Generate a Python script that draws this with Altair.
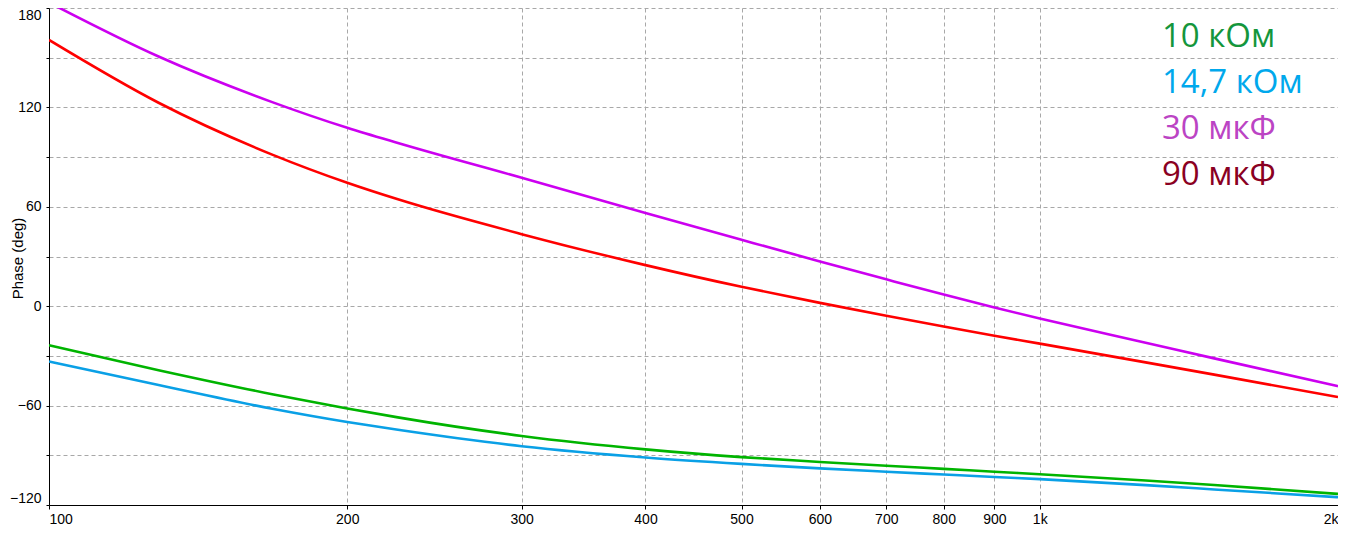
import altair as alt
import pandas as pd

# Frequencies (Hz) at which the curves were read
freq = [100, 129, 168, 200, 225, 300, 400, 500, 600, 700, 800, 900, 1000, 1279, 1500, 2000]

# Phase (deg) of each curve
phase_10k = [-23.6, -38.6, -53.1, -61.7, -67.1, -78.3, -86.4, -91.1, -94.0, -96.3, -98.2, -99.9, -101.4, -105.2, -107.9, -113.3]
phase_14k7 = [-33.4, -47.6, -61.9, -69.9, -74.6, -84.5, -91.3, -95.2, -97.9, -99.9, -101.6, -103.1, -104.4, -108.0, -110.6, -115.3]
phase_30u = [183.3, 150.7, 123.2, 107.7, 98.5, 77.5, 56.3, 40.1, 27.0, 16.2, 7.0, -0.8, -7.4, -22.0, -31.5, -48.3]
phase_90u = [160.7, 122.8, 91.5, 74.5, 64.5, 43.5, 24.8, 11.7, 2.0, -5.8, -12.3, -17.8, -22.6, -33.9, -41.3, -54.8]

series_names = ["10 кОм", "14,7 кОм", "30 мкФ", "90 мкФ"]
line_colors = ["#00b400", "#0aa0e6", "#cc00f0", "#ff0000"]
legend_colors = ["#14963c", "#00a8ec", "#bb44c4", "#8a0022"]

x_ticks = [100, 200, 300, 400, 500, 600, 700, 800, 900, 1000, 2000]
y_ticks = [-120, -90, -60, -30, 0, 30, 60, 90, 120, 150, 180]

rows = []
for name, vals in zip(series_names, [phase_10k, phase_14k7, phase_30u, phase_90u]):
    for f, v in zip(freq, vals):
        rows.append({"freq": f, "phase": v, "series": name})
df = pd.DataFrame(rows)

leg = pd.DataFrame({"name": series_names, "tcolor": legend_colors})

axis_font = "Liberation Sans Narrow, Liberation Sans, Arial, sans-serif"

lines = alt.Chart(df).mark_line(strokeWidth=2.6, clip=True, interpolate="monotone").encode(
    x=alt.X(
        "freq:Q",
        scale=alt.Scale(type="log", domain=[100, 2000], nice=False),
        axis=alt.Axis(
            values=x_ticks,
            labelExpr="datum.value >= 1000 ? format(datum.value / 1000, 'd') + 'k' : format(datum.value, 'd')",
            title=None,
            labelFlush=True,
            grid=True,
            tickSize=4,
            labelPadding=3,
        ),
    ),
    y=alt.Y(
        "phase:Q",
        scale=alt.Scale(domain=[-120, 180], nice=False, zero=False),
        axis=alt.Axis(
            values=y_ticks,
            labelExpr="datum.value % 60 == 0 ? format(datum.value, 'd') : ''",
            title="Phase (deg)",
            titleFont="Liberation Sans, Arial, sans-serif",
            titleFontSize=15,
            titleFontWeight="normal",
            titleColor="#000000",
            titleX=-39,
            titleY=250,
            titleAngle=270,
            titleBaseline="top",
            titleAlign="center",
            labelFlush=True,
            grid=True,
            tickSize=3,
            labelPadding=5,
        ),
    ),
    color=alt.Color("series:N", scale=alt.Scale(domain=series_names, range=line_colors), legend=None),
)

legend_text = alt.Chart(leg).mark_text(
    align="left", baseline="alphabetic", font="Open Sans", fontSize=33
).encode(
    x=alt.value(1113),
    y=alt.Y("name:N", sort=series_names, scale=alt.Scale(range=[39, 177], padding=0), axis=None),
    text="name:N",
    color=alt.Color("tcolor:N", scale=None),
)

chart = (
    alt.layer(lines, legend_text)
    .resolve_scale(y="independent", color="independent")
    .properties(
        width=1289,
        height=497,
        autosize=alt.AutoSizeParams(type="none"),
        padding={"left": 41, "top": 0, "right": 0, "bottom": 20},
        background="#ffffff",
    )
    .configure_view(stroke=None)
    .configure_axis(
        labelFont=axis_font,
        labelFontSize=14,
        labelColor="#000000",
        domainColor="#000000",
        domainWidth=1,
        tickColor="#000000",
        tickWidth=1,
        gridColor="#a8a8a8",
        gridDash=[4, 3],
        gridWidth=1,
    )
)

chart.save("out.html", embed_options={"renderer": "svg", "actions": False})
